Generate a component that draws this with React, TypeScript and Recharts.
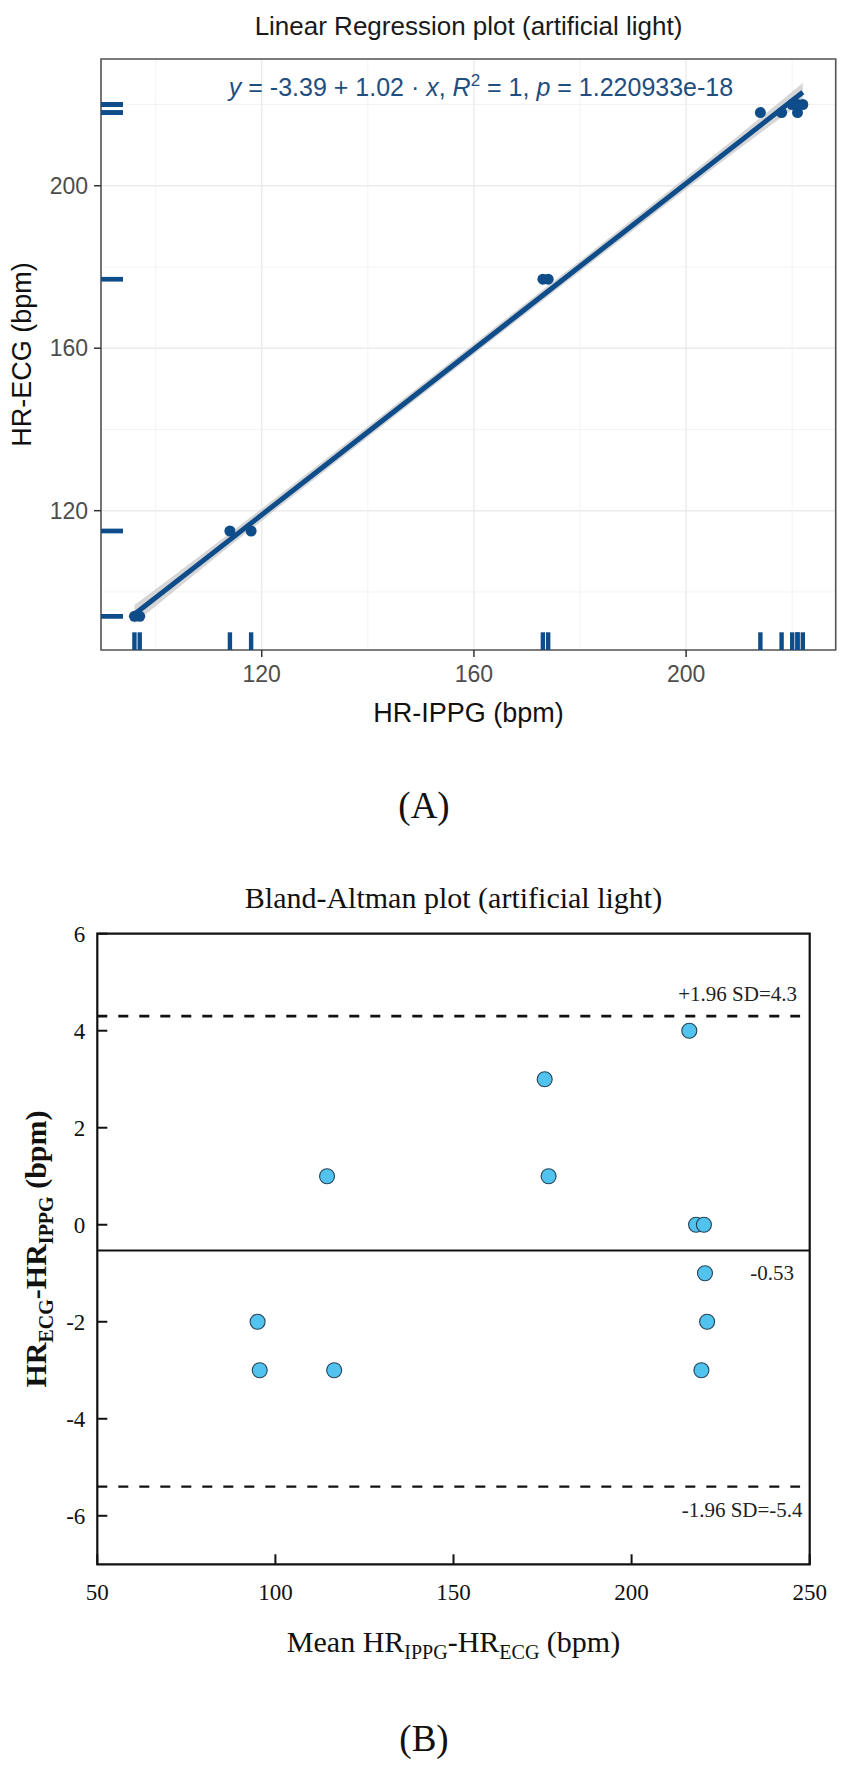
import {
  Area,
  CartesianGrid,
  ComposedChart,
  Line,
  ReferenceArea,
  ReferenceLine,
  Scatter,
  XAxis,
  YAxis,
} from 'recharts'

// ---- (A) linear regression ----
const hrIppg = [96, 97, 114, 118, 173, 174, 214, 218, 220, 221, 222, 221]
const hrEcg = [94, 94, 115, 115, 177, 177, 218, 218, 220, 220, 220, 218]

const fitX = [96, 222]
const fitY = [94.5, 223.0]

const bandX = [96, 110, 130, 160, 190, 210, 222]
const bandLow = [92.2, 107.1, 127.8, 158.5, 189.0, 209.1, 220.7]
const bandHigh = [96.8, 110.5, 130.6, 161.1, 191.8, 212.5, 225.3]

const xDomainA = [89.7, 228.2]
const yDomainA = [85.7, 231.2]
const xTicksA = [120, 160, 200]
const yTicksA = [120, 160, 200]
const minorA = [100, 140, 180, 220]

// ---- (B) Bland-Altman ----
const meanHr = [95.0, 95.6, 114.5, 116.5, 175.6, 176.7, 216.2, 218.1, 220.3, 220.6, 221.2, 219.6]
const diffHr = [-2, -3, 1, -3, 3, 1, 4, 0, 0, -1, -2, -3]

const upperLoA = 4.3
const meanDiff = -0.53
const lowerLoA = -5.4
const loaEnd = 247.3

const xDomainB = [50, 250]
const yDomainB = [-7, 6]
const xTicksB = [50, 100, 150, 200, 250]
const yTicksB = [-6, -4, -2, 0, 2, 4, 6]

const blue = '#0f4c8a'
const sans = '"Liberation Sans", Arial, sans-serif'
const serif = '"Liberation Serif", "Times New Roman", serif'

const pointsA = hrIppg.map((x, i) => ({ x, y: hrEcg[i] }))
const fitData = fitX.map((x, i) => ({ x, y: fitY[i] }))
const bandData = bandX.map((x, i) => ({ x, band: [bandLow[i], bandHigh[i]] }))
const rugX = hrIppg.map((x) => ({ x, y: yDomainA[0] }))
const rugY = hrEcg.map((y) => ({ x: xDomainA[0], y }))
const pointsB = meanHr.map((x, i) => ({ x, y: diffHr[i] }))

function BottomTick(props: any) {
  const { x, y, payload } = props
  return (
    <g>
      <line x1={x} x2={x} y1={y - 19} y2={y - 29} stroke="#111" strokeWidth={2} />
      <text x={x} y={y} dy="0.71em" textAnchor="middle" fontFamily={serif} fontSize={23} fill="#111">
        {payload.value}
      </text>
    </g>
  )
}

function LeftTick(props: any) {
  const { x, y, payload } = props
  return (
    <g>
      <line x1={x + 12} x2={x + 22} y1={y} y2={y} stroke="#111" strokeWidth={2} />
      <text x={x} y={y} dy="0.34em" textAnchor="end" fontFamily={serif} fontSize={23} fill="#111">
        {payload.value}
      </text>
    </g>
  )
}

export default function App() {
  return (
    <div style={{ position: 'absolute', left: 0, top: 0, width: 850, height: 1765, background: '#fff' }}>
      <div style={{ position: 'absolute', left: 0, top: 0 }}>
        <ComposedChart width={850} height={740} margin={{ top: 59, right: 14.3, bottom: 50, left: 41 }}>
          <CartesianGrid stroke="#ebebeb" strokeWidth={1.4} />
          <CartesianGrid stroke="#f0f0f0" strokeWidth={0.8} verticalValues={minorA} horizontalValues={minorA} />
          <XAxis
            type="number"
            dataKey="x"
            domain={xDomainA}
            ticks={xTicksA}
            allowDataOverflow
            height={40}
            axisLine={false}
            tickSize={7}
            tickMargin={9}
            tickLine={{ stroke: '#333', strokeWidth: 1.5 }}
            tick={{ fontSize: 23, fill: '#4d4d4d', fontFamily: sans }}
          />
          <YAxis
            type="number"
            dataKey="y"
            domain={yDomainA}
            ticks={yTicksA}
            allowDataOverflow
            width={60}
            axisLine={false}
            tickSize={7}
            tickMargin={6}
            tickLine={{ stroke: '#333', strokeWidth: 1.5 }}
            tick={{ fontSize: 23, fill: '#4d4d4d', fontFamily: sans }}
          />
          <Area
            data={bandData}
            dataKey="band"
            type="monotone"
            stroke="none"
            fill="#c4c4c4"
            fillOpacity={0.7}
            isAnimationActive={false}
          />
          <Line
            data={fitData}
            dataKey="y"
            type="linear"
            stroke={blue}
            strokeWidth={5}
            dot={false}
            activeDot={false}
            isAnimationActive={false}
          />
          <Scatter
            data={pointsA}
            dataKey="y"
            isAnimationActive={false}
            shape={(p: any) => <circle cx={p.cx} cy={p.cy} r={5.5} fill={blue} />}
          />
          <Scatter
            data={rugX}
            dataKey="y"
            isAnimationActive={false}
            shape={(p: any) => <rect x={p.cx - 2.2} y={p.cy - 17.7} width={4.4} height={17.7} fill={blue} />}
          />
          <Scatter
            data={rugY}
            dataKey="y"
            isAnimationActive={false}
            shape={(p: any) => <rect x={p.cx} y={p.cy - 2.2} width={22} height={4.4} fill={blue} />}
          />
          <ReferenceArea
            x1={xDomainA[0]}
            x2={xDomainA[1]}
            y1={yDomainA[0]}
            y2={yDomainA[1]}
            fill="none"
            stroke="#555"
            strokeWidth={1.6}
            ifOverflow="visible"
          />
        </ComposedChart>
      </div>

      <div style={{ position: 'absolute', left: 0, top: 860 }}>
        <ComposedChart width={850} height={800} margin={{ top: 73.7, right: 40.3, bottom: 55.7, left: 37.3 }}>
          <XAxis
            type="number"
            dataKey="x"
            domain={xDomainB}
            ticks={xTicksB}
            allowDataOverflow
            height={40}
            axisLine={false}
            tickLine={false}
            tickSize={0}
            tickMargin={19}
            tick={<BottomTick />}
          />
          <YAxis
            type="number"
            dataKey="y"
            domain={yDomainB}
            ticks={yTicksB}
            allowDataOverflow
            width={60}
            axisLine={false}
            tickLine={false}
            tickSize={0}
            tickMargin={12}
            tick={<LeftTick />}
          />
          <ReferenceLine
            segment={[{ x: xDomainB[0], y: upperLoA }, { x: loaEnd, y: upperLoA }]}
            stroke="#111"
            strokeWidth={2.6}
            strokeDasharray="10 11"
          />
          <ReferenceLine y={meanDiff} stroke="#111" strokeWidth={2} />
          <ReferenceLine
            segment={[{ x: xDomainB[0], y: lowerLoA }, { x: loaEnd, y: lowerLoA }]}
            stroke="#111"
            strokeWidth={2.3}
            strokeDasharray="10 11"
          />
          <Scatter
            data={pointsB}
            dataKey="y"
            isAnimationActive={false}
            shape={(p: any) => (
              <circle cx={p.cx} cy={p.cy} r={7.5} fill="#52c3ee" stroke="#24445a" strokeWidth={1.1} />
            )}
          />
          <ReferenceArea
            x1={xDomainB[0]}
            x2={xDomainB[1]}
            y1={yDomainB[0]}
            y2={yDomainB[1]}
            fill="none"
            stroke="#111"
            strokeWidth={2.2}
            ifOverflow="visible"
          />
        </ComposedChart>
      </div>

      <svg
        width={850}
        height={1765}
        style={{ position: 'absolute', left: 0, top: 0, pointerEvents: 'none', whiteSpace: 'pre' }}
      >
        {/* (A) texts */}
        <text x={468.5} y={35} textAnchor="middle" fontFamily={sans} fontSize={26} fill="#1a1a1a">
          Linear Regression plot (artificial light)
        </text>
        <text x={481} y={96} textAnchor="middle" fontFamily={sans} fontSize={25} fill="#1f4e80">
          <tspan fontStyle="italic">y</tspan>
          <tspan> = -3.39 + 1.02 · </tspan>
          <tspan fontStyle="italic">x</tspan>
          <tspan>,  </tspan>
          <tspan fontStyle="italic">R</tspan>
          <tspan dy={-10} fontSize={17}>2</tspan>
          <tspan dy={10}> = 1,  </tspan>
          <tspan fontStyle="italic">p</tspan>
          <tspan> = 1.220933e-18</tspan>
        </text>
        <text x={468.5} y={722} textAnchor="middle" fontFamily={sans} fontSize={27} fill="#111">
          HR-IPPG (bpm)
        </text>
        <text transform="translate(31,354.5) rotate(-90)" textAnchor="middle" fontFamily={sans} fontSize={27} fill="#111">
          HR-ECG (bpm)
        </text>
        <text x={424} y={818} textAnchor="middle" fontFamily={serif} fontSize={37} fill="#111">
          (A)
        </text>

        {/* (B) texts */}
        <text x={453.5} y={908} textAnchor="middle" fontFamily={serif} fontSize={30} fill="#111">
          Bland-Altman plot (artificial light)
        </text>
        <text x={797} y={1001} textAnchor="end" fontFamily={serif} fontSize={21} fill="#222">
          +1.96 SD=4.3
        </text>
        <text x={794} y={1280} textAnchor="end" fontFamily={serif} fontSize={21} fill="#222">
          -0.53
        </text>
        <text x={802.6} y={1517} textAnchor="end" fontFamily={serif} fontSize={21} fill="#222">
          -1.96 SD=-5.4
        </text>
        <text x={453.5} y={1652} textAnchor="middle" fontFamily={serif} fontSize={30} fill="#111">
          <tspan>Mean HR</tspan>
          <tspan dy={7} fontSize={20}>IPPG</tspan>
          <tspan dy={-7}>-HR</tspan>
          <tspan dy={7} fontSize={20}>ECG</tspan>
          <tspan dy={-7}> (bpm)</tspan>
        </text>
        <text
          transform="translate(46,1249) rotate(-90)"
          textAnchor="middle"
          fontFamily={serif}
          fontWeight="bold"
          fontSize={30}
          fill="#111"
        >
          <tspan>HR</tspan>
          <tspan dy={7} fontSize={20}>ECG</tspan>
          <tspan dy={-7}>-HR</tspan>
          <tspan dy={7} fontSize={20}>IPPG</tspan>
          <tspan dy={-7}> (bpm)</tspan>
        </text>
        <text x={424} y={1751} textAnchor="middle" fontFamily={serif} fontSize={37} fill="#111">
          (B)
        </text>
      </svg>
    </div>
  )
}
